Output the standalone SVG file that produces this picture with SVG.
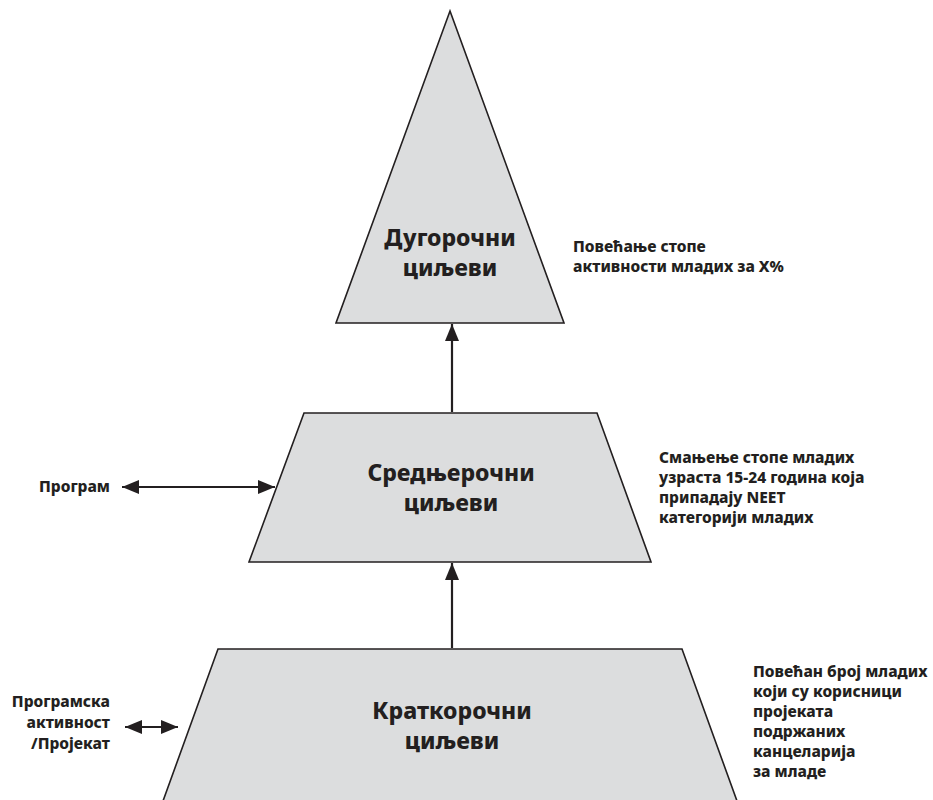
<svg xmlns="http://www.w3.org/2000/svg" width="933" height="800" viewBox="0 0 933 800">
<style>
.shape{fill:#dcddde;stroke:#231f20;stroke-width:1.6;stroke-linejoin:miter}
.node{font-family:"Noto Sans","Open Sans","DejaVu Sans",sans-serif;font-weight:800;font-size:23px;fill:#231f20;text-anchor:middle}
.lbl{font-family:"Noto Sans","Open Sans","DejaVu Sans",sans-serif;font-weight:800;font-size:15.5px;fill:#231f20}
.lblr{text-anchor:end}
.conn{stroke:#231f20;stroke-width:2.2;fill:none}
</style>
<defs>
<marker id="ah" viewBox="0 0 17 14" refX="17" refY="7" markerWidth="17" markerHeight="14" markerUnits="userSpaceOnUse" orient="auto-start-reverse">
<path d="M0,0 L17,7 L0,14 Z" fill="#231f20"/>
</marker>
</defs>
<rect width="933" height="800" fill="#ffffff"/>
<g id="node-long">
<polygon class="shape" points="450,11 564,323 336,323"/>
<text class="node" x="450" y="246">Дугорочни</text>
<text class="node" x="450" y="276">циљеви</text>
</g>
<g id="node-mid">
<polygon class="shape" points="304,413 597,413 651,562 249,562"/>
<text class="node" x="451" y="481">Средњерочни</text>
<text class="node" x="451" y="511">циљеви</text>
</g>
<g id="node-short">
<polygon class="shape" points="218,649 682,649 737,801 163,801"/>
<text class="node" x="452" y="719">Краткорочни</text>
<text class="node" x="452" y="749">циљеви</text>
</g>
<g id="label-program">
<text class="lbl lblr" x="110" y="492">Програм</text>
</g>
<g id="label-activity">
<text class="lbl lblr" x="110" y="707">Програмска</text>
<text class="lbl lblr" x="110" y="728">активност</text>
<text class="lbl lblr" x="110" y="749">/Пројекат</text>
</g>
<g id="label-long">
<text class="lbl" x="573" y="252">Повећање стопе</text>
<text class="lbl" x="573" y="272">активности младих за X%</text>
</g>
<g id="label-mid">
<text class="lbl" x="659" y="463">Смањење стопе младих</text>
<text class="lbl" x="659" y="483">узраста 15-24 година која</text>
<text class="lbl" x="659" y="503">припадају NEET</text>
<text class="lbl" x="659" y="523">категорији младих</text>
</g>
<g id="label-short">
<text class="lbl" x="753" y="677">Повећан број младих</text>
<text class="lbl" x="753" y="697">који су корисници</text>
<text class="lbl" x="753" y="717">пројеката</text>
<text class="lbl" x="753" y="737">подржаних</text>
<text class="lbl" x="753" y="757">канцеларија</text>
<text class="lbl" x="753" y="777">за младе</text>
</g>
<g id="connectors">
<line class="conn" x1="452" y1="412" x2="452" y2="324" marker-end="url(#ah)"/>
<line class="conn" x1="452" y1="648" x2="452" y2="563" marker-end="url(#ah)"/>
<line class="conn" x1="122" y1="487" x2="275" y2="487" marker-start="url(#ah)" marker-end="url(#ah)"/>
<line class="conn" x1="125" y1="727" x2="178" y2="727" marker-start="url(#ah)" marker-end="url(#ah)"/>
</g>
</svg>
